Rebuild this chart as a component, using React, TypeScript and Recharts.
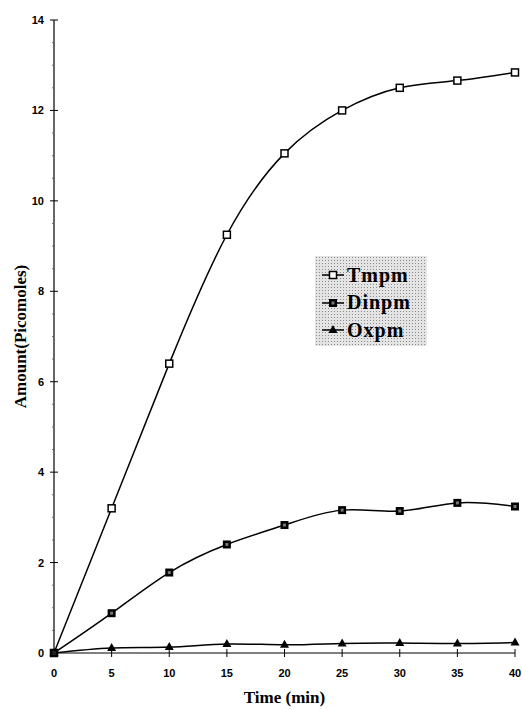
import React from 'react'
import { LineChart, Line, XAxis, YAxis, Legend } from 'recharts'

// sampling times (min)
const times = [0, 5, 10, 15, 20, 25, 30, 35, 40]
// amounts in picomoles per metabolite
const tmpm = [0, 3.2, 6.4, 9.25, 11.05, 12.0, 12.5, 12.66, 12.84]
const dinpm = [0, 0.88, 1.78, 2.4, 2.83, 3.16, 3.14, 3.32, 3.24]
const oxpm = [0, 0.11, 0.13, 0.2, 0.18, 0.21, 0.22, 0.21, 0.23]

const xTicks = [0, 5, 10, 15, 20, 25, 30, 35, 40]
const yTicks = [0, 2, 4, 6, 8, 10, 12, 14]
// small unlabelled marks between the major ticks
const yMinorTicks = yTicks.slice(0, -1).flatMap((v) => [v + 0.5, v + 1, v + 1.5])

const data = times.map((t, i) => ({
  time: t,
  tmpm: tmpm[i],
  dinpm: dinpm[i],
  oxpm: oxpm[i],
}))

const tickFont = '"Liberation Sans", Arial, sans-serif'
const titleFont = '"Liberation Serif", "Times New Roman", serif'

const OpenSquare = (props: any) => {
  const { cx, cy, index } = props
  return (
    <rect key={`t-${index}`} x={cx - 3.5} y={cy - 3.5} width={7} height={7}
      fill="#fff" stroke="#000" strokeWidth={1.5} />
  )
}

const FilledSquare = (props: any) => {
  const { cx, cy, index } = props
  return (
    <g key={`d-${index}`}>
      <rect x={cx - 4} y={cy - 4} width={8} height={8} fill="#000" />
      <rect x={cx - 1.5} y={cy - 1.5} width={3} height={3} fill="#777" />
    </g>
  )
}

const Triangle = (props: any) => {
  const { cx, cy, index } = props
  return (
    <path key={`o-${index}`}
      d={`M${cx},${cy - 5} L${cx + 4.5},${cy + 3} L${cx - 4.5},${cy + 3} Z`} fill="#000" />
  )
}

const XTick = ({ x, y, payload }: any) => (
  <g>
    <line x1={x} x2={x} y1={y - 4} y2={y + 4} stroke="#000" strokeWidth={1} />
    <text x={x} y={y + 24} textAnchor="middle" fontFamily={tickFont}
      fontSize={11} fontWeight="bold" fill="#000">
      {payload.value}
    </text>
  </g>
)

const YTick = ({ x, y, payload }: any) => {
  const major = yTicks.includes(payload.value)
  if (!major) {
    return <line x1={x - 2} x2={x} y1={y} y2={y} stroke="#555" strokeWidth={0.8} />
  }
  return (
    <g>
      <line x1={x - 4} x2={x + 4} y1={y} y2={y} stroke="#000" strokeWidth={1} />
      <text x={x - 10} y={y + 4} textAnchor="end" fontFamily={tickFont}
        fontSize={11} fontWeight="bold" fill="#000">
        {payload.value}
      </text>
    </g>
  )
}

const legendItems = [
  { name: 'Tmpm', Marker: OpenSquare },
  { name: 'Dinpm', Marker: FilledSquare },
  { name: 'Oxpm', Marker: Triangle },
]

// stippled box, like the old halftone legend
const renderLegend = () => (
  <div
    style={{
      width: 112,
      height: 90,
      backgroundColor: '#e4e4e4',
      backgroundImage: 'radial-gradient(#8a8a8a 0.7px, transparent 0.9px)',
      backgroundSize: '3px 3px',
      position: 'relative',
    }}
  >
    {legendItems.map(({ name, Marker }, i) => (
      <div key={name} style={{ position: 'absolute', left: 6, top: 7 + i * 27.5, height: 24,
        display: 'flex', alignItems: 'center' }}>
        <svg width={24} height={24}>
          <line x1={1} x2={23} y1={12} y2={12} stroke="#000" strokeWidth={1.5} />
          <Marker cx={12} cy={12} index={0} />
        </svg>
        <span style={{ fontFamily: titleFont, fontSize: 20, fontWeight: 'bold', letterSpacing: 1,
          color: '#000', marginLeft: 2 }}>
          {name}
        </span>
      </div>
    ))}
  </div>
)

export default function App() {
  return (
    <div style={{ position: 'absolute', left: 0, top: 0, width: 522, height: 709, background: '#fff' }}>
      <LineChart width={522} height={709} data={data}
        margin={{ top: 20, right: 7, bottom: 26, left: 0 }}>
        <XAxis
          dataKey="time"
          type="number"
          domain={[0, 40]}
          ticks={xTicks}
          interval={0}
          height={30}
          tickSize={0}
          tickMargin={0}
          tick={<XTick />}
          axisLine={{ stroke: '#000', strokeWidth: 1.2 }}
          tickLine={false}
          label={{
            value: 'Time (min)',
            position: 'bottom',
            offset: 8,
            style: { fontFamily: titleFont, fontSize: 17, fontWeight: 'bold', fill: '#000' },
          }}
        />
        <YAxis
          type="number"
          domain={[0, 14]}
          ticks={[...yTicks, ...yMinorTicks].sort((a, b) => a - b)}
          interval={0}
          width={54}
          tickSize={0}
          tickMargin={0}
          tick={<YTick />}
          axisLine={{ stroke: '#000', strokeWidth: 1.2 }}
          tickLine={false}
          label={{
            value: 'Amount(Picomoles)',
            angle: -90,
            position: 'insideLeft',
            offset: 20,
            style: { fontFamily: titleFont, fontSize: 17, fontWeight: 'bold', fill: '#000', textAnchor: 'middle' },
          }}
        />
        <Legend
          layout="vertical"
          align="center"
          verticalAlign="middle"
          content={renderLegend}
          wrapperStyle={{ left: 315, top: 256, width: 112 }}
        />
        <Line type="natural" dataKey="oxpm" name="Oxpm" stroke="#000" strokeWidth={1.5}
          dot={<Triangle />} isAnimationActive={false} />
        <Line type="natural" dataKey="tmpm" name="Tmpm" stroke="#000" strokeWidth={1.5}
          dot={<OpenSquare />} isAnimationActive={false} />
        <Line type="natural" dataKey="dinpm" name="Dinpm" stroke="#000" strokeWidth={1.5}
          dot={<FilledSquare />} isAnimationActive={false} />
      </LineChart>
    </div>
  )
}
